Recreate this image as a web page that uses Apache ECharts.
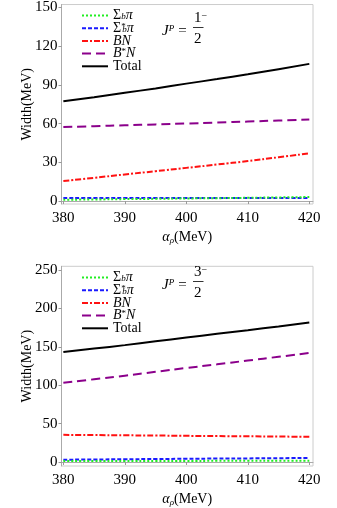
<!DOCTYPE html>
<html><head><meta charset="utf-8">
<script src="https://cdn.jsdelivr.net/npm/echarts@6/dist/echarts.min.js"></script>
<style>html,body{margin:0;padding:0;background:#fff}#c{width:337px;height:508px}</style>
</head><body><div id="c"></div>
<script>
const alphaRho = [380, 385, 390, 395, 400, 405, 410, 415, 420];
const xTicks = [380, 390, 400, 410, 420];
const yTicksTop = [0, 30, 60, 90, 120, 150];
const yTicksBot = [0, 50, 100, 150, 200, 250];
const seriesNames = ['Σbπ', 'Σb*π', 'BN', 'B*N', 'Total'];
// J^P = 1/2^-
const sigmaPiTop = [1.0, 1.2, 1.5, 1.7, 2.0, 2.2, 2.5, 2.8, 3.1];
const sigmaStarPiTop = [2.4, 2.4, 2.4, 2.4, 2.4, 2.4, 2.4, 2.4, 2.4];
const bnTop = [15.5, 18.0, 20.6, 23.1, 25.7, 28.3, 31.0, 33.9, 36.9];
const bStarNTop = [57.3, 58.0, 58.7, 59.4, 60.1, 60.8, 61.6, 62.4, 63.2];
const totalTop = [77.3, 80.5, 83.9, 87.3, 91.0, 94.5, 98.2, 102.2, 106.3];
// J^P = 3/2^-
const sigmaPiBot = [1.3, 1.3, 1.4, 1.4, 1.4, 1.5, 1.5, 1.5, 1.6];
const sigmaStarPiBot = [3.0, 3.3, 3.6, 3.9, 4.2, 4.5, 4.7, 5.0, 5.2];
const bnBot = [35.4, 35.1, 34.8, 34.5, 34.1, 33.8, 33.5, 33.2, 32.8];
const bStarNBot = [103.2, 107.8, 112.5, 117.5, 122.5, 127.3, 132.2, 137.1, 142.1];
const totalBot = [143.4, 147.8, 152.3, 157.2, 162.2, 167.0, 171.8, 176.7, 181.7];

const FONT = '"Liberation Serif", "DejaVu Serif", serif';
const styles = [
  {color: '#22ee22', type: [2, 2]},
  {color: '#1a1aff', type: [4, 2]},
  {color: '#ff1111', type: [6, 2, 2, 2]},
  {color: '#8b008b', type: [9, 5]},
  {color: '#000000', type: 'solid'}
];
const topData = [sigmaPiTop, sigmaStarPiTop, bnTop, bStarNTop, totalTop];
const botData = [sigmaPiBot, sigmaStarPiBot, bnBot, bStarNBot, totalBot];

const LH = 12;
const rich = {
  n: {fontFamily: FONT, fontSize: 14, color: '#000', lineHeight: LH},
  it: {fontFamily: FONT, fontSize: 14, fontStyle: 'italic', color: '#000', lineHeight: LH},
  sub: {fontFamily: FONT, fontSize: 9, fontStyle: 'italic', color: '#000', verticalAlign: 'bottom', lineHeight: LH},
  sup: {fontFamily: FONT, fontSize: 9, color: '#000', verticalAlign: 'top', lineHeight: LH, width: 1},
  supn: {fontFamily: FONT, fontSize: 9, color: '#000', verticalAlign: 'top', lineHeight: LH}
};
const legendText = {
  'Σbπ': '{n|Σ}{sub|b}{it|π}',
  'Σb*π': '{n|Σ}{sup|*}{sub|b}{it|π}',
  'BN': '{it|BN}',
  'B*N': '{it|B}{supn|*}{it|N}',
  'Total': '{n|Total}'
};

function axisSet(gi, yTicks, yMin, yMax) {
  const common = {
    gridIndex: gi, type: 'value',
    axisLine: {show: true, lineStyle: {color: '#aaaaaa', width: 1}},
    splitLine: {show: false}
  };
  const x = Object.assign({}, common, {
    min: 379.7, max: 420.6,
    name: '{it|α}{sub|ρ}(MeV)', nameLocation: 'middle', nameGap: 26, nameMoveOverlap: false,
    nameTextStyle: {fontFamily: FONT, fontSize: 14, color: '#000', rich: {
      it: {fontFamily: FONT, fontSize: 14, fontStyle: 'italic', color: '#000'},
      sub: {fontFamily: FONT, fontSize: 9, fontStyle: 'italic', color: '#000', verticalAlign: 'bottom', padding: [6, 0, 0, 0]}
    }},
    axisLabel: {fontFamily: FONT, fontSize: 15, color: '#000', margin: 7, customValues: xTicks},
    axisTick: {show: true, length: 3, lineStyle: {color: '#999'}, customValues: xTicks}
  });
  const y = Object.assign({}, common, {
    min: yMin, max: yMax,
    name: 'Width(MeV)', nameLocation: 'middle', nameGap: 27, nameMoveOverlap: false,
    nameTextStyle: {fontFamily: FONT, fontSize: 14, color: '#000'},
    axisLabel: {fontFamily: FONT, fontSize: 15, color: '#000', margin: 4, customValues: yTicks},
    axisTick: {show: true, length: 3, lineStyle: {color: '#999'}, customValues: yTicks}
  });
  return [x, y];
}
const [x0, y0] = axisSet(0, yTicksTop, -2.3, 152.3);
const [x1, y1] = axisSet(1, yTicksBot, -5.2, 255);

const series = [];
[topData, botData].forEach((set, gi) => {
  set.forEach((vals, i) => {
    series.push({
      name: seriesNames[i], type: 'line', xAxisIndex: gi, yAxisIndex: gi,
      symbol: 'none', smooth: true, silent: true, animation: false,
      lineStyle: {color: styles[i].color, type: styles[i].type, width: 2},
      itemStyle: {color: styles[i].color},
      z: 10 - i,
      data: alphaRho.map((x, k) => [x, vals[k]])
    });
  });
});

function legendAt(top) {
  return {
    orient: 'vertical', left: 81, top: top, padding: 0,
    itemWidth: 26, itemHeight: 12, itemGap: -1.3,
    itemStyle: {opacity: 0},
    data: seriesNames, selectedMode: false,
    formatter: n => legendText[n],
    textStyle: {fontFamily: FONT, fontSize: 14, color: '#000', lineHeight: LH, rich: rich}
  };
}

function jp(top, num) {
  return [
    {type: 'text', left: 162, top: top + 6, style: {rich: {
      a: {fontFamily: FONT, fontSize: 15, fontStyle: 'italic', fill: '#000'},
      b: {fontFamily: FONT, fontSize: 9, fontStyle: 'italic', fill: '#000', verticalAlign: 'top'},
      c: {fontFamily: FONT, fontSize: 15, fill: '#000', padding: [0, 0, 0, 4]}
    }, text: '{a|J}{b|P}{c|=}', fill: '#000'}},
    {type: 'text', left: 194, top: top - 7, style: {rich: {
      c: {fontFamily: FONT, fontSize: 15, fill: '#000'},
      d: {fontFamily: FONT, fontSize: 10, fill: '#000', verticalAlign: 'top'}
    }, text: '{c|' + num + '}{d|−}'}},
    {type: 'rect', left: 193, top: top + 9, shape: {width: 10.5, height: 0.8}, style: {fill: '#000'}},
    {type: 'text', left: 194, top: top + 14, style: {text: '2', font: '15px ' + FONT, fill: '#000'}}
  ];
}

const option = {
  animation: false,
  backgroundColor: '#fff',
  grid: [
    {left: 61.5, right: 24, top: 4, height: 200, show: true, borderColor: '#cccccc', borderWidth: 1, containLabel: false},
    {left: 61.5, right: 24, top: 266.3, height: 201, show: true, borderColor: '#cccccc', borderWidth: 1, containLabel: false}
  ],
  xAxis: [x0, x1],
  yAxis: [y0, y1],
  legend: [legendAt(8.5), legendAt(270.5)],
  graphic: [].concat(jp(18, '1'), jp(272, '3')),
  series: series
};
const chart = echarts.init(document.getElementById('c'), null, {renderer: 'canvas'});
chart.setOption(option);
</script></body></html>
